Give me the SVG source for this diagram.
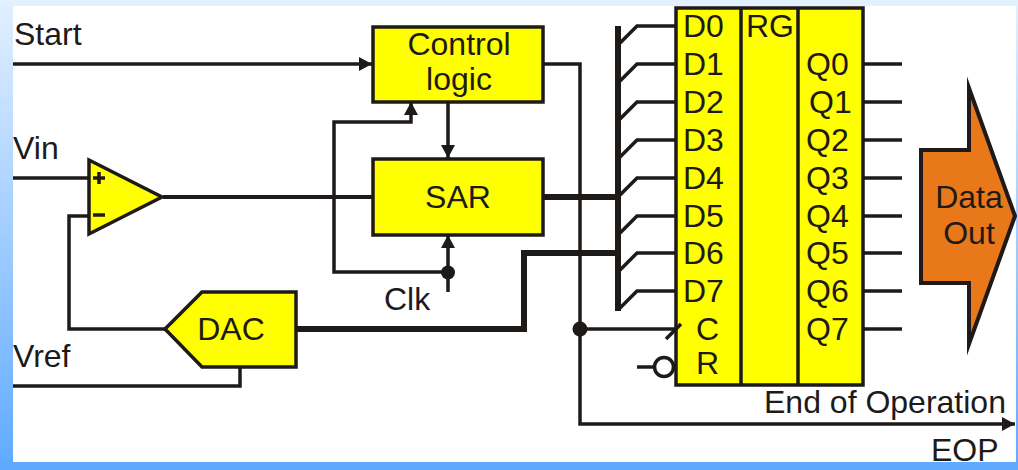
<svg xmlns="http://www.w3.org/2000/svg" width="1018" height="470" viewBox="0 0 1018 470">
<defs>
<linearGradient id="bg" x1="0" y1="0" x2="0" y2="1"><stop offset="0" stop-color="#e2f0ff"/><stop offset="1" stop-color="#5faaff"/></linearGradient>
<marker id="arr" markerUnits="userSpaceOnUse" markerWidth="15" markerHeight="15" refX="13" refY="7" orient="auto"><path d="M0,0L13,7L0,14Z" fill="#1e1a18"/></marker>
</defs>
<style>
text{font-family:"Liberation Sans",Arial,sans-serif;font-size:32px;fill:#1e1a18}
.m{text-anchor:middle}
.b{fill:#ffff00;stroke:#1e1a18;stroke-width:3.500}
.w{fill:none;stroke:#1e1a18;stroke-width:3.500}
.t{fill:none;stroke:#1e1a18;stroke-width:6}
.d{fill:#1e1a18}
</style>
<rect width="1018" height="470" fill="url(#bg)"/>
<rect x="0" y="0" width="1018" height="6" fill="#e2f0ff"/>
<rect x="0" y="462" width="1018" height="8" fill="#5faaff"/>
<rect x="13" y="6" width="1003" height="456" fill="#fff"/>
<g id="connectors">
<path class="w" marker-end="url(#arr)" d="M13,64H372"/>
<path class="w" d="M13,178H90"/>
<path class="w" style="stroke-width:4" d="M163,197H372"/>
<path class="w" d="M90,216H69V329H165"/>
<path class="w" d="M13,386H240V367"/>
<path class="t" d="M296,329H524V253H618"/>
<path class="t" d="M543,197H618"/>
<path class="w" marker-end="url(#arr)" d="M448,102V158"/>
<path class="w" marker-end="url(#arr)" d="M448,272H334V122H411V102"/>
<path class="w" marker-end="url(#arr)" d="M448,292V235"/>
<circle class="d" cx="448" cy="272.500" r="7"/>
<path class="w" marker-end="url(#arr)" d="M543,64H580V424H1015"/>
<circle class="d" cx="580" cy="329" r="7.500"/>
<path class="w" d="M580,329H675"/>
<path class="t" d="M618,26V311"/>
<path class="w" d="M620,43L637,26H675M620,81L637,64H675M620,119L637,102H675M620,157L637,140H675M620,195L637,178H675M620,233L637,216H675M620,270L637,253H675M620,308L637,291H675"/>
<path class="w" d="M864,64H902M864,102H902M864,140H902M864,178H902M864,216H902M864,253H902M864,291H902M864,329H902"/>
<path class="w" d="M637,367H655"/>
<circle cx="664" cy="367" r="9.500" fill="#fff" stroke="#1e1a18" stroke-width="3.500"/>
</g>
<g id="comparator">
<path class="b" d="M89,160L162,197L89,234Z"/>
<path d="M93,178H105M99,172V184M93,215H105" fill="none" stroke="#1e1a18" stroke-width="3.500"/>
</g>
<g id="control"><rect class="b" x="373" y="27" width="170" height="75"/><text class="m" x="459" y="55">Control</text><text class="m" x="459" y="90">logic</text></g>
<g id="sar"><rect class="b" x="373" y="159" width="170" height="76"/><text class="m" x="458" y="208">SAR</text></g>
<g id="dac"><path class="b" d="M165,329L202,292H296V367H202Z"/><text class="m" x="231" y="340">DAC</text></g>
<g id="register">
<rect class="b" x="676" y="8" width="187" height="377"/>
<path d="M741,8V385M798,8V385" fill="none" stroke="#1e1a18" stroke-width="3.500"/>
<path class="w" d="M666,339L681,324"/>
<text x="683" y="37">D0</text><text x="683" y="75">D1</text><text x="683" y="113">D2</text><text x="683" y="151">D3</text><text x="683" y="189">D4</text><text x="683" y="227">D5</text><text x="683" y="264">D6</text><text x="683" y="302">D7</text>
<text x="696" y="340">C</text><text x="696" y="374">R</text>
<text x="746" y="37">RG</text>
<text x="806" y="75">Q0</text><text x="809" y="113">Q1</text><text x="806" y="151">Q2</text><text x="806" y="189">Q3</text><text x="806" y="227">Q4</text><text x="806" y="264">Q5</text><text x="806" y="302">Q6</text><text x="806" y="340">Q7</text>
</g>
<g id="data-out"><path d="M921,150H969V88L1015,216L969,344V283H921Z" fill="#e8781a" stroke="#1e1a18" stroke-width="4" stroke-miterlimit="20"/><text class="m" x="969" y="208">Data</text><text class="m" x="969" y="244">Out</text></g>
<g id="labels">
<text x="14" y="45">Start</text><text x="13" y="159">Vin</text><text x="13" y="367">Vref</text><text x="384" y="310">Clk</text><text x="764" y="413">End of Operation</text><text x="931" y="461">EOP</text>
</g>
</svg>
